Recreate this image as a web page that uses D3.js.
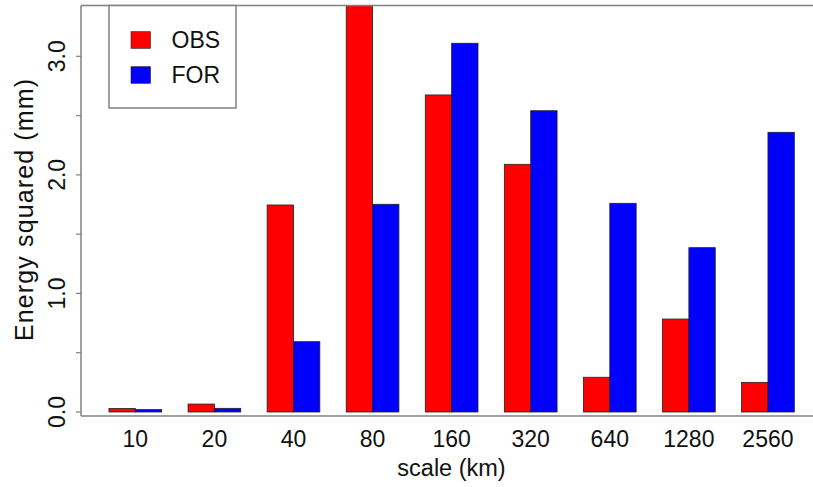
<!DOCTYPE html>
<html>
<head>
<meta charset="utf-8">
<script src="https://cdn.jsdelivr.net/npm/d3@7"></script>
<style>
  html, body { margin: 0; padding: 0; background: #fff; }
  svg { display: block; font-family: "Liberation Sans", Arial, Helvetica, sans-serif; }
</style>
</head>
<body>
<svg id="chart" width="813" height="487"></svg>
<script>
// ---- data ----
const categories = ["10", "20", "40", "80", "160", "320", "640", "1280", "2560"];
const obsValues = [0.03, 0.067, 1.746, 3.6, 2.674, 2.089, 0.293, 0.784, 0.25];
const forValues = [0.02, 0.031, 0.593, 1.752, 3.11, 2.541, 1.76, 1.386, 2.359];
const seriesNames = ["OBS", "FOR"];
const seriesColors = ["#ff0000", "#0000ff"];
const yTicks = [0, 0.5, 1, 1.5, 2, 2.5, 3];
const yTickLabels = ["0.0", "", "1.0", "", "2.0", "", "3.0"];

// ---- layout ----
const svg = d3.select("#chart");
const plot = { left: 81, top: 5.5, right: 822, bottom: 416 };

// bar units: each group = 2 bars + 1 gap bar (space before group)
const x = d3.scaleLinear().domain([0, 27]).range([82.6, 82.6 + 27 * 26.36]);
const y = d3.scaleLinear().domain([0, 3]).range([412, 56.3]);

const data = categories.map((c, i) => ({ cat: c, i, vals: [obsValues[i], forValues[i]] }));

svg.append("defs").append("clipPath").attr("id", "plotclip")
  .append("rect")
  .attr("x", plot.left).attr("y", plot.top)
  .attr("width", plot.right - plot.left).attr("height", plot.bottom - plot.top);

const barsG = svg.append("g").attr("clip-path", "url(#plotclip)");
data.forEach(d => {
  d.vals.forEach((v, s) => {
    const u0 = 3 * d.i + 1 + s;
    barsG.append("rect")
      .attr("x", x(u0))
      .attr("y", y(v))
      .attr("width", x(u0 + 1) - x(u0))
      .attr("height", y(0) - y(v))
      .attr("fill", seriesColors[s])
      .attr("stroke", "#222")
      .attr("stroke-width", 0.8);
  });
});

// box (plot frame)
const frameColor = "#808080";
svg.append("line").attr("x1", plot.left).attr("x2", 813).attr("y1", plot.top).attr("y2", plot.top)
  .attr("stroke", frameColor).attr("stroke-width", 1.5);
svg.append("line").attr("x1", plot.left).attr("x2", 813).attr("y1", plot.bottom).attr("y2", plot.bottom)
  .attr("stroke", frameColor).attr("stroke-width", 1.5);
svg.append("line").attr("x1", plot.left).attr("x2", plot.left).attr("y1", plot.top).attr("y2", plot.bottom)
  .attr("stroke", frameColor).attr("stroke-width", 1.5);

// y axis ticks (R style: rotated labels)
const yAxisG = svg.append("g");
yTicks.forEach((t, k) => {
  yAxisG.append("line")
    .attr("x1", plot.left - 5).attr("x2", plot.left)
    .attr("y1", y(t)).attr("y2", y(t))
    .attr("stroke", frameColor).attr("stroke-width", 1.2);
  if (yTickLabels[k]) {
    yAxisG.append("text")
      .attr("transform", `translate(65,${y(t)}) rotate(-90)`)
      .attr("text-anchor", "middle")
      .attr("font-size", 23)
      .attr("fill", "#111")
      .text(yTickLabels[k]);
  }
});

// x category labels
data.forEach(d => {
  svg.append("text")
    .attr("x", x(3 * d.i + 2))
    .attr("y", 447)
    .attr("text-anchor", "middle")
    .attr("font-size", 23)
    .attr("fill", "#111")
    .text(d.cat);
});

// axis titles
svg.append("text")
  .attr("x", (plot.left + plot.right) / 2)
  .attr("y", 476)
  .attr("text-anchor", "middle")
  .attr("font-size", 23.5)
  .attr("fill", "#111")
  .text("scale (km)");

svg.append("text")
  .attr("transform", `translate(33,210) rotate(-90)`)
  .attr("text-anchor", "middle")
  .attr("font-size", 25)
  .attr("textLength", 262)
  .attr("lengthAdjust", "spacing")
  .attr("fill", "#111")
  .text("Energy squared (mm)");

// legend
const lg = svg.append("g");
lg.append("rect")
  .attr("x", 109).attr("y", plot.top).attr("width", 127).attr("height", 108 - plot.top)
  .attr("fill", "#fff").attr("stroke", frameColor).attr("stroke-width", 1.5);
seriesNames.forEach((n, s) => {
  const cy = 40 + s * 35;
  lg.append("rect")
    .attr("x", 131).attr("y", cy - 8.3).attr("width", 19.5).attr("height", 16.6)
    .attr("fill", seriesColors[s]).attr("stroke", "#222").attr("stroke-width", 0.6);
  lg.append("text")
    .attr("x", 171.5).attr("y", cy + 8.3)
    .attr("font-size", 23)
    .attr("fill", "#111")
    .text(n);
});
</script>
</body>
</html>
